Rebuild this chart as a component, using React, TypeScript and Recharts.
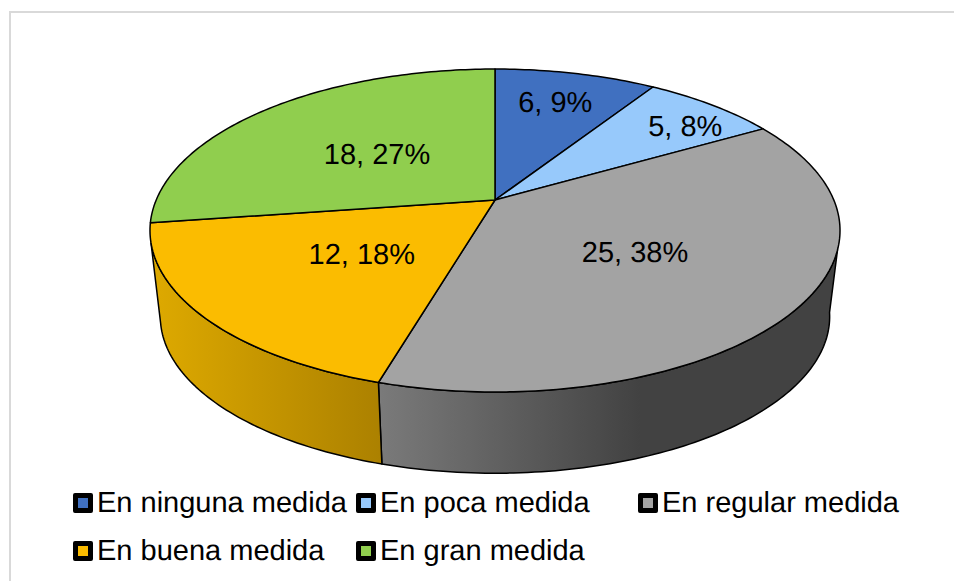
import { Legend, Pie, PieChart } from "recharts"

const categories = ["En ninguna medida", "En poca medida", "En regular medida", "En buena medida", "En gran medida"]
const counts = [6, 5, 25, 12, 18]
const topColors = ["#4070C0", "#97C9FB", "#A3A3A3", "#FBBC00", "#90CE4E"]
const wallFills = ["none", "none", "url(#wall-gray)", "url(#wall-gold)", "none"]

const tableData = categories.map((name, i) => ({ name, value: counts[i], fill: topColors[i], wall: wallFills[i] }))

const WIDTH = 954
const HEIGHT = 581
const FONT = "'Liberation Sans', Arial, sans-serif"
const FONT_SIZE = 29

// perspective used to turn a flat pie angle into a point on the tilted disc
const APEX_X = 495
const TOP_Y = 200
const BOTTOM_Y = 287
const RADIUS_X = 338.8
const RADIUS_Y = 155.7
const TILT = 0.189
const BOTTOM_SCALE = 0.97

// clockwise degrees from 12 o'clock where the wall meets the silhouette
const WALL_TOP = [107.6, 254.8]
const WALL_BOTTOM = [99.4, 256.8]

const labelNudges = [
  [1, -4],
  [33, -4],
  [-63, -20],
  [63, -23],
  [47, 21],
]

const legendCols = [73, 356, 638, 73, 356]
const legendRows = [493, 493, 493, 541, 541]

function project(deg: number, r = 1, y0 = TOP_Y, scale = 1) {
  const t = (deg * Math.PI) / 180
  const u = r * Math.sin(t)
  const v = -r * Math.cos(t)
  const w = 1 - TILT * v
  return { x: APEX_X + (scale * RADIUS_X * u) / w, y: y0 + (scale * RADIUS_Y * v) / w }
}

function arcPoints(from: number, to: number, y0 = TOP_Y, scale = 1) {
  const pts: string[] = []
  const n = Math.max(2, Math.ceil(Math.abs(to - from)))
  for (let i = 0; i <= n; i++) {
    const p = project(from + ((to - from) * i) / n, 1, y0, scale)
    pts.push(`${p.x.toFixed(2)} ${p.y.toFixed(2)}`)
  }
  return pts
}

function TopSlice(props: any) {
  const from = 90 - props.startAngle
  const to = 90 - props.endAngle
  const d = `M${APEX_X} ${TOP_Y} L${arcPoints(from, to).join(" L")} Z`
  return <path d={d} fill={props.fill} stroke="#000" strokeWidth={1.5} strokeLinejoin="round" />
}

function WallSlice(props: any) {
  if (props.payload?.wall === "none" || props.wall === "none") return <g />
  const from = 90 - props.startAngle
  const to = 90 - props.endAngle
  const topFrom = Math.max(from, WALL_TOP[0])
  const topTo = Math.min(to, WALL_TOP[1])
  const botFrom = Math.max(from, WALL_BOTTOM[0])
  const botTo = Math.min(to, WALL_BOTTOM[1])
  const top = arcPoints(topFrom, topTo)
  const bottom = arcPoints(botTo, botFrom, BOTTOM_Y, BOTTOM_SCALE)
  const d = `M${top.join(" L")} L${bottom.join(" L")} Z`
  return <path d={d} fill={props.wall ?? props.payload?.wall} stroke="#000" strokeWidth={1.5} strokeLinejoin="round" />
}

function renderLabel(props: any) {
  const i = props.index
  const p = project(90 - props.midAngle, 0.7)
  return (
    <text
      x={p.x + labelNudges[i][0]}
      y={p.y + labelNudges[i][1]}
      textAnchor="middle"
      dominantBaseline="central"
      fontFamily={FONT}
      fontSize={FONT_SIZE}
      textRendering="geometricPrecision"
      fill="#000"
    >
      {`${props.value}, ${Math.round(props.percent * 100)}%`}
    </text>
  )
}

function LegendBlock(props: any) {
  // both pies report their slices, keep one entry per category
  const items = categories.map((name) => (props.payload ?? []).find((p: any) => p.value === name))
  return (
    <div
      style={{
        position: "relative",
        width: WIDTH,
        height: HEIGHT,
        fontFamily: FONT,
        fontSize: FONT_SIZE,
        textRendering: "geometricPrecision",
      }}
    >
      {items.map((item: any, i: number) => (
        <div key={categories[i]} style={{ position: "absolute", left: legendCols[i], top: legendRows[i], height: 20 }}>
          <span
            style={{
              position: "absolute",
              left: 0,
              top: 0,
              width: 10,
              height: 10,
              border: "5px solid #000",
              borderRadius: 2,
              background: item?.color ?? topColors[i],
            }}
          />
          <span style={{ position: "absolute", left: 24, top: -7, lineHeight: "34px", whiteSpace: "nowrap", color: "#000" }}>
            {categories[i]}
          </span>
        </div>
      ))}
    </div>
  )
}

export default function App() {
  return (
    <div style={{ position: "absolute", left: 0, top: 0, width: WIDTH, height: HEIGHT, overflow: "hidden", background: "#fff" }}>
      <div
        style={{
          position: "absolute",
          left: 9,
          top: 11,
          right: 0,
          bottom: 0,
          borderLeft: "2px solid #D9D9D9",
          borderTop: "2px solid #D9D9D9",
        }}
      />
      <PieChart width={WIDTH} height={HEIGHT} margin={{ top: 0, right: 0, bottom: 0, left: 0 }}>
        <defs>
          <linearGradient id="wall-gold" gradientUnits="userSpaceOnUse" x1="160" y1="0" x2="380" y2="0">
            <stop offset="0%" stopColor="#DCA800" />
            <stop offset="100%" stopColor="#AC8100" />
          </linearGradient>
          <linearGradient id="wall-gray" gradientUnits="userSpaceOnUse" x1="380" y1="0" x2="640" y2="0">
            <stop offset="0%" stopColor="#7A7A7A" />
            <stop offset="100%" stopColor="#424242" />
          </linearGradient>
        </defs>
        <Pie
          data={tableData}
          dataKey="value"
          nameKey="name"
          cx={APEX_X}
          cy={TOP_Y}
          outerRadius={150}
          startAngle={90}
          endAngle={-270}
          legendType="none"
          shape={WallSlice}
          isAnimationActive={false}
        />
        <Pie
          data={tableData}
          dataKey="value"
          nameKey="name"
          cx={APEX_X}
          cy={TOP_Y}
          outerRadius={150}
          startAngle={90}
          endAngle={-270}
          shape={TopSlice}
          label={renderLabel}
          labelLine={false}
          isAnimationActive={false}
        />
        <Legend content={LegendBlock} wrapperStyle={{ left: 0, top: 0, bottom: "auto", width: WIDTH, height: HEIGHT, pointerEvents: "none" }} />
      </PieChart>
    </div>
  )
}
